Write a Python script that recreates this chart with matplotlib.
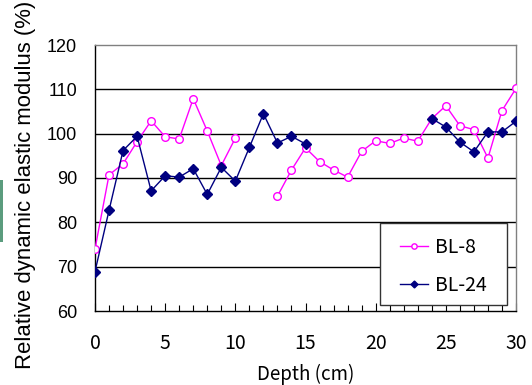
import numpy as np
import matplotlib
matplotlib.use('Agg')
import matplotlib.pyplot as plt
from matplotlib.ticker import MultipleLocator
from matplotlib.patches import Rectangle

# ── Data ──────────────────────────────────────────────────────────────────────
depth = np.arange(0, 31)
bl8 = [74.0, 90.7, 93.2, 98.2, 102.9, 99.3, 98.8, 107.9, 100.6, 92.8, 99.0,
       np.nan, np.nan, 85.9, 91.8, 96.8, 93.7, 91.8, 90.2, 96.0, 98.4,
       97.8, 99.0, 98.3, 103.4, 106.3, 101.8, 100.9, 94.5, 105.2, 110.2]
bl24 = [68.9, 82.7, 96.2, 99.4, 87.1, 90.5, 90.2, 92.1, 86.3, 92.4, 89.3,
        96.9, 104.5, 97.9, 99.4, 97.7, np.nan, np.nan, np.nan, np.nan, np.nan,
        np.nan, np.nan, np.nan, 103.4, 101.5, 98.1, 95.9, 100.4, 100.4, 102.8]
series_names = ['BL-8', 'BL-24']

SANS = ['Liberation Sans', 'DejaVu Sans']
GOTH = ['Noto Sans CJK JP', 'DejaVu Sans']
W, H = 532, 385

# ── Figure ────────────────────────────────────────────────────────────────────
fig = plt.figure(figsize=(W / 100, H / 100), dpi=100)
ax = fig.add_axes([95 / W, 74 / H, 421 / W, 266 / H])

ax.plot(depth, bl8, color='#ff00ff', lw=1.0, marker='o', ms=5.5,
        mfc='white', mec='#ff00ff', mew=1.0, label=series_names[0], zorder=3)
ax.plot(depth, bl24, color='#000080', lw=1.0, marker='D', ms=5,
        mfc='#000080', mec='#000080', label=series_names[1], zorder=3)

ax.set_xlim(0, 30)
ax.set_ylim(60, 120)
ax.xaxis.set_major_locator(MultipleLocator(5))
ax.xaxis.set_minor_locator(MultipleLocator(1))
ax.yaxis.set_major_locator(MultipleLocator(10))

for y in range(70, 120, 10):
    ax.axhline(y, color='black', lw=1.0, zorder=1)

ax.spines['left'].set_color('black')
ax.spines['bottom'].set_color('black')
ax.spines['top'].set_color('#808080')
ax.spines['right'].set_color('#808080')
for s in ax.spines.values():
    s.set_linewidth(1.0)

ax.tick_params(axis='x', which='major', direction='in', length=6, width=0.8,
               pad=16)
ax.tick_params(axis='x', which='minor', direction='in', length=4, width=0.8)
ax.tick_params(axis='y', length=0, pad=13)
for lbl in ax.get_xticklabels():
    lbl.set_family(GOTH)
    lbl.set_fontsize(14)
for lbl in ax.get_yticklabels():
    lbl.set_family(SANS)
    lbl.set_fontsize(13)

ax.set_xlabel('Depth (cm)', family=GOTH, fontsize=13.5, labelpad=7)
ax.set_ylabel('Relative dynamic elastic modulus (%)', family=SANS,
              fontsize=15.9, labelpad=8, y=0.474)

# legend box (white, framed) drawn separately so its size matches the original
ax.add_patch(Rectangle((380 / W, 80 / H), 127 / W, 82 / H,
                       transform=fig.transFigure, facecolor='white',
                       edgecolor='#333333', lw=1.0, zorder=4, clip_on=False))
leg = ax.legend(loc='center left', bbox_to_anchor=(400 / W, 118.5 / H),
                bbox_transform=fig.transFigure, frameon=False,
                prop={'family': GOTH, 'size': 14}, markerscale=0.7,
                handlelength=1.45, borderpad=0, labelspacing=0.9,
                handletextpad=0.36, borderaxespad=0)
leg.set_zorder(5)

# clipped green fragment at the left edge of the original image
fig.patches.append(Rectangle((0, 143 / H), 3 / W, 62 / H,
                             transform=fig.transFigure, color='#5b9c7e',
                             lw=0))

fig.savefig('out.png', dpi=100)
